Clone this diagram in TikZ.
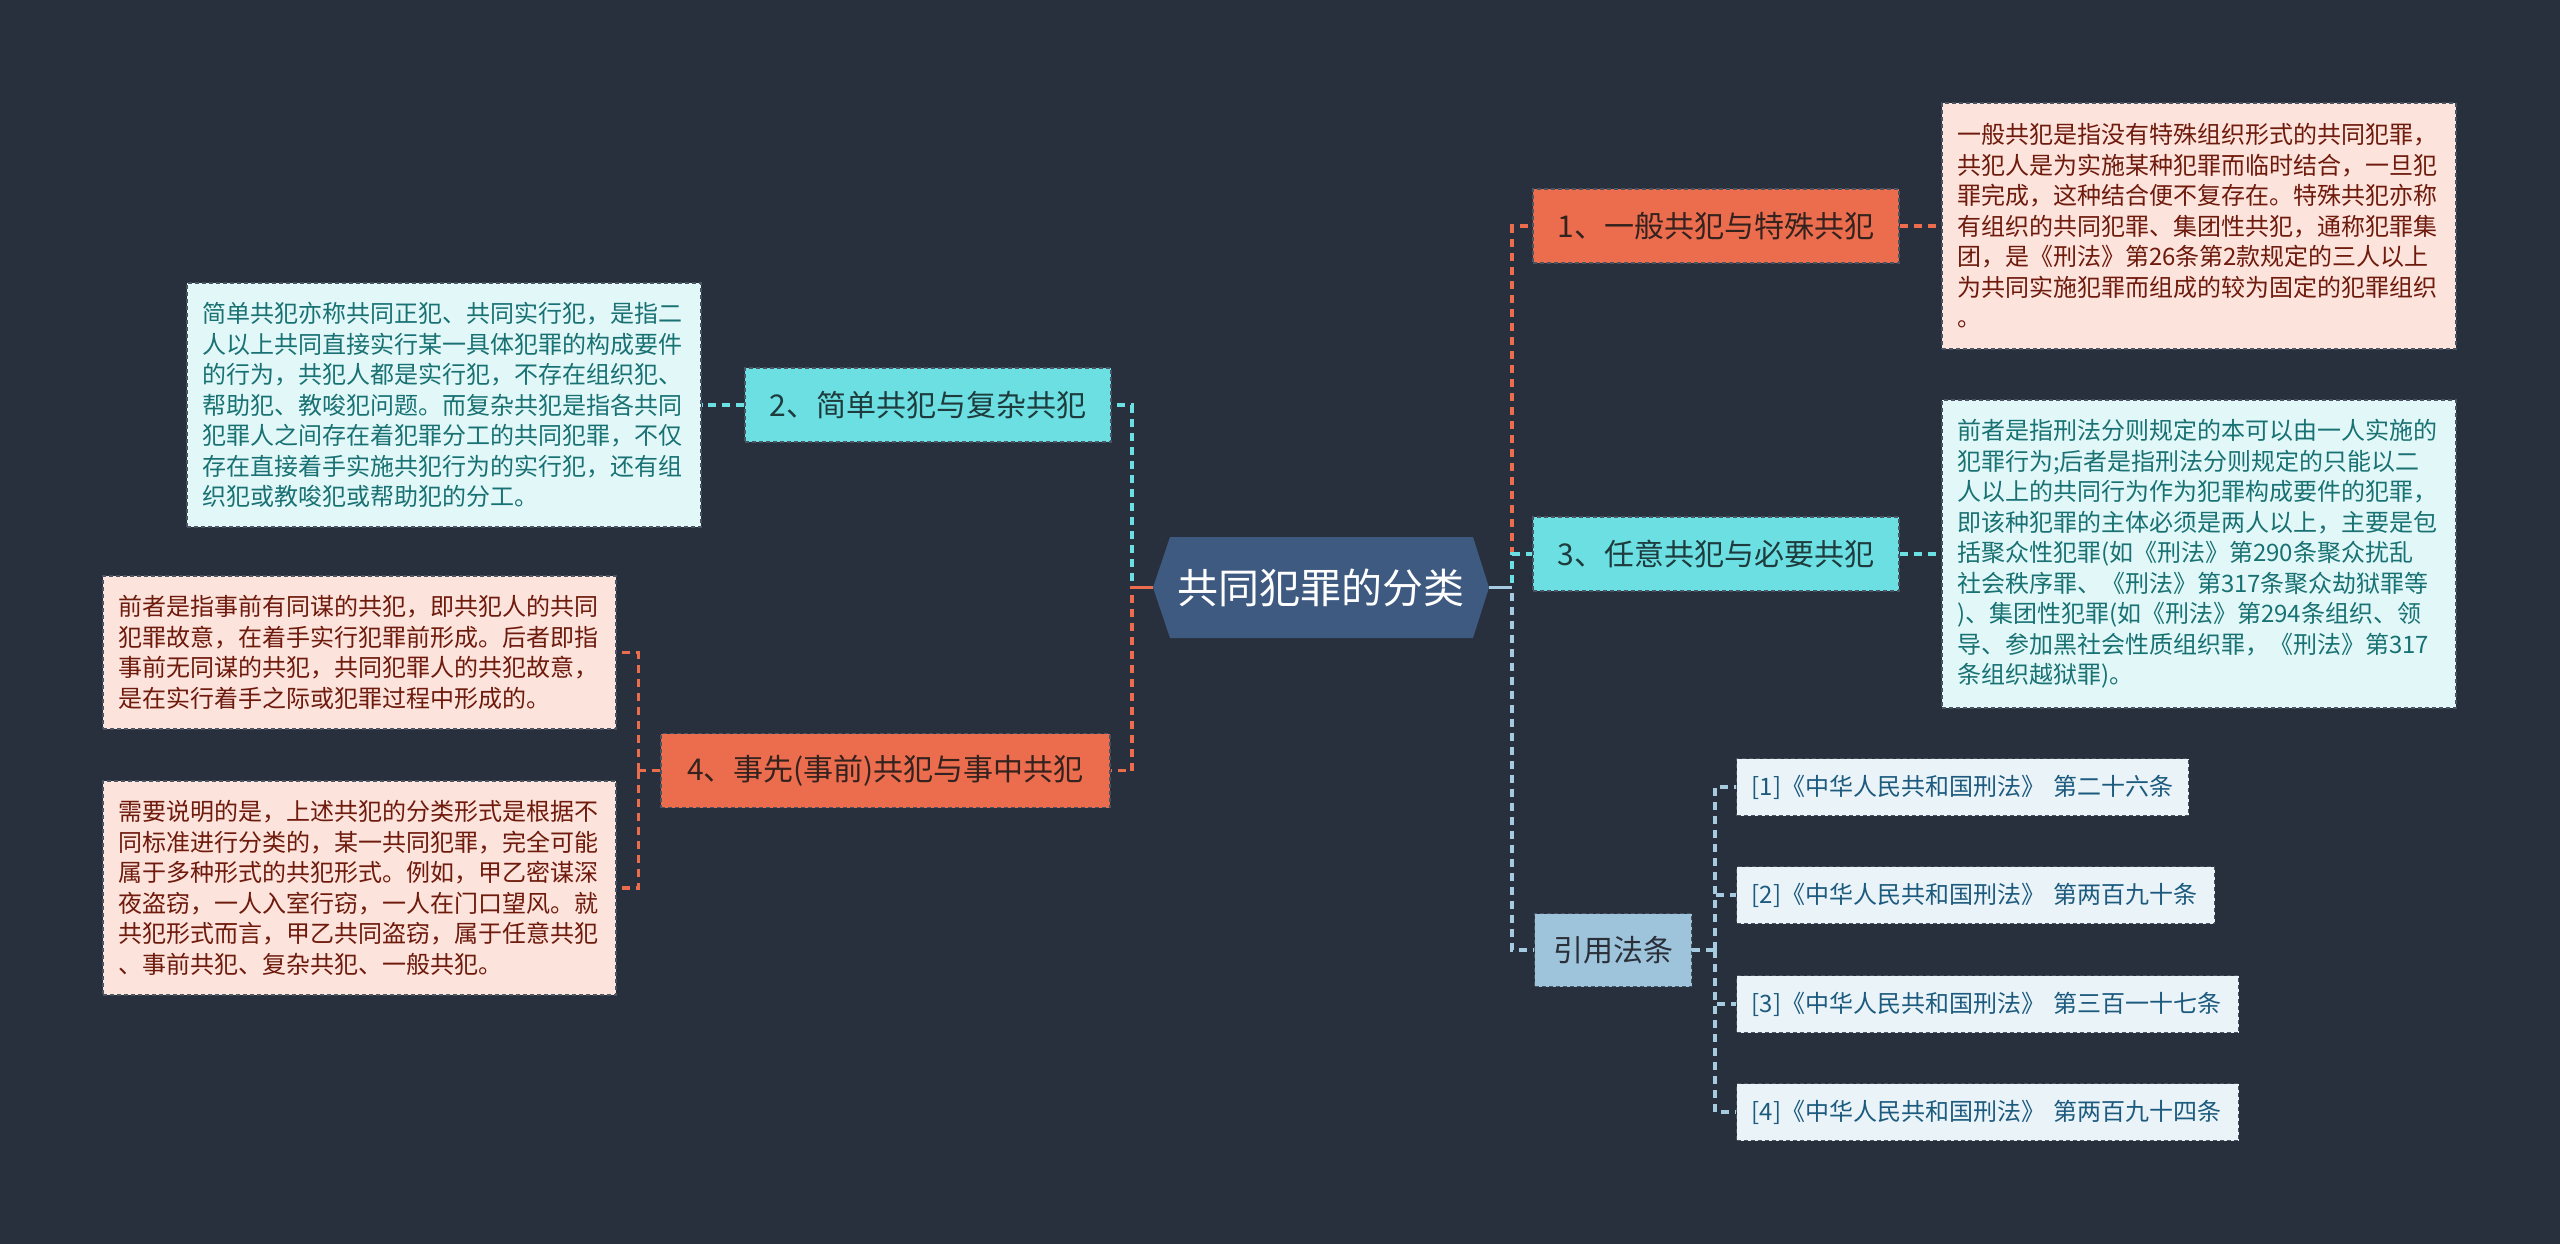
\documentclass[tikz,border=0pt]{standalone}
\usepackage{fontspec}
\setmainfont{Noto Sans CJK SC}
\usetikzlibrary{calc}
\definecolor{bgc}{HTML}{28303E}
\definecolor{hexc}{HTML}{3E5A80}
\definecolor{orgc}{HTML}{EC6C4E}
\definecolor{cyac}{HTML}{6CDFE3}
\definecolor{lawc}{HTML}{9EC4DC}
\definecolor{pinkc}{HTML}{FCE3DC}
\definecolor{icec}{HTML}{E2F8F8}
\definecolor{citec}{HTML}{EAF3F8}
\definecolor{pinkt}{HTML}{6E1A0C}
\definecolor{icet}{HTML}{197173}
\definecolor{citet}{HTML}{1C5A7E}
\definecolor{orgt}{HTML}{33221E}
\definecolor{cyat}{HTML}{1E3B3D}
\definecolor{lawt}{HTML}{2A2F38}
\definecolor{lawl}{HTML}{A6CBE0}
\definecolor{edgec}{HTML}{4A5362}
\begin{document}
\begin{tikzpicture}[x=1pt,y=-1pt,
  boxbase/.style={draw=edgec, dash pattern=on 4pt off 3pt, line width=1.3pt, inner sep=0pt},
  orangenode/.style={boxbase, fill=orgc, text=orgt, minimum width=366pt, minimum height=74pt, font=\fontsize{30}{36}\selectfont},
  cyannode/.style={boxbase, fill=cyac, text=cyat, minimum width=366pt, minimum height=74pt, font=\fontsize{30}{36}\selectfont},
  lawnode/.style={boxbase, fill=lawc, text=lawt, minimum width=157pt, minimum height=73pt, font=\fontsize{30}{36}\selectfont},
  detailbase/.style={boxbase, inner xsep=15pt, text width=484pt, align=left, font=\fontsize{24}{30.5}\selectfont},
  pinkbox/.style={detailbase, fill=pinkc, text=pinkt},
  icebox/.style={detailbase, fill=icec, text=icet},
  citebox/.style={boxbase, fill=citec, text=citet, inner xsep=15pt, minimum height=57pt, align=left, font=\fontsize{24}{30}\selectfont, anchor=west},
  lnk/.style={line width=3.5pt, dash pattern=on 8pt off 6pt},
  oline/.style={lnk, draw=orgc},
  cline/.style={lnk, draw=cyac},
  bline/.style={lnk, draw=lawl},
  stub/.style={line width=3.5pt}
]
\fill[bgc] (0,0) rectangle (2560,1244);
\useasboundingbox (0,0) rectangle (2560,1244);

% central hexagon
\fill[hexc] (1153,587.5) -- (1170,537) -- (1473,537) -- (1489,587.5) -- (1473,638) -- (1170,638) -- cycle;
\node[text=white, font=\fontsize{41}{48}\selectfont, minimum width=336pt, minimum height=101pt, inner sep=0pt] (ctr) at (1321,587.5) {共同犯罪的分类};

% main branches
\node[orangenode] (n1) at (1716,226) {1、一般共犯与特殊共犯};
\node[cyannode] (n3) at (1716,554) {3、任意共犯与必要共犯};
\node[cyannode] (n2) at (928,405) {2、简单共犯与复杂共犯};
\node[orangenode, minimum width=449pt] (n4) at (885.5,770.5) {4、事先(事前)共犯与事中共犯};
\node[lawnode] (law) at (1613,950) {引用法条};

% details
\node[pinkbox, minimum height=246pt] (d1) at (2199,226) {一般共犯是指没有特殊组织形式的共同犯罪，\\共犯人是为实施某种犯罪而临时结合，一旦犯\\罪完成，这种结合便不复存在。特殊共犯亦称\\有组织的共同犯罪、集团性共犯，通称犯罪集\\团，是《刑法》第26条第2款规定的三人以上\\为共同实施犯罪而组成的较为固定的犯罪组织\\。};
\node[icebox, minimum height=308pt] (d3) at (2199,554) {前者是指刑法分则规定的本可以由一人实施的\\犯罪行为;后者是指刑法分则规定的只能以二\\人以上的共同行为作为犯罪构成要件的犯罪，\\即该种犯罪的主体必须是两人以上，主要是包\\括聚众性犯罪(如《刑法》第290条聚众扰乱\\社会秩序罪、《刑法》第317条聚众劫狱罪等\\)、集团性犯罪(如《刑法》第294条组织、领\\导、参加黑社会性质组织罪，《刑法》第317\\条组织越狱罪)。};
\node[icebox, minimum height=244pt] (d2) at (444,405) {简单共犯亦称共同正犯、共同实行犯，是指二\\人以上共同直接实行某一具体犯罪的构成要件\\的行为，共犯人都是实行犯，不存在组织犯、\\帮助犯、教唆犯问题。而复杂共犯是指各共同\\犯罪人之间存在着犯罪分工的共同犯罪，不仅\\存在直接着手实施共犯行为的实行犯，还有组\\织犯或教唆犯或帮助犯的分工。};
\node[pinkbox, text width=483pt, minimum height=153pt] (d4a) at (359.5,652.5) {前者是指事前有同谋的共犯，即共犯人的共同\\犯罪故意，在着手实行犯罪前形成。后者即指\\事前无同谋的共犯，共同犯罪人的共犯故意，\\是在实行着手之际或犯罪过程中形成的。};
\node[pinkbox, text width=483pt, minimum height=214pt] (d4b) at (359.5,888) {需要说明的是，上述共犯的分类形式是根据不\\同标准进行分类的，某一共同犯罪，完全可能\\属于多种形式的共犯形式。例如，甲乙密谋深\\夜盗窃，一人入室行窃，一人在门口望风。就\\共犯形式而言，甲乙共同盗窃，属于任意共犯\\、事前共犯、复杂共犯、一般共犯。};

% cited laws
\node[citebox, text width=422pt] (c1) at (1736,787) {[1]《中华人民共和国刑法》 第二十六条};
\node[citebox, text width=448pt] (c2) at (1736,895) {[2]《中华人民共和国刑法》 第两百九十条};
\node[citebox, text width=472pt] (c3) at (1736,1004) {[3]《中华人民共和国刑法》 第三百一十七条};
\node[citebox, text width=472pt] (c4) at (1736,1112) {[4]《中华人民共和国刑法》 第两百九十四条};

% connectors: left side
\draw[cline] (ctr.west) -- ++(-21,0) |- (n2.east);
\draw[oline] (ctr.west) -- ++(-21,0) |- (n4.east);
\draw[stub, draw=orgc] (ctr.west) -- ++(-21,0) coordinate (lsp);
% connectors: right side
\draw[oline] (ctr.east) -- ++(23,0) |- (n1.west);
\draw[cline] (ctr.east) -- ++(23,0) |- (n3.west);
\draw[bline] (ctr.east) -- ++(23,0) |- (law.west);
\draw[stub, draw=lawl] (ctr.east) -- ++(23,0) coordinate (rsp);

% to details
\draw[oline] (n1.east) -- (d1.west);
\draw[cline] (n3.east) -- (d3.west);
\draw[cline] (n2.west) -- (d2.east);
\draw[oline] (n4.west) -- ++(-22,0) coordinate (s4);
\draw[oline] (s4) |- (d4a.east);
\draw[oline] (s4) |- (d4b.east);

% to cited laws
\draw[bline] (law.east) -- ++(23,0) coordinate (s5);
\draw[bline] (s5) |- (c1.west);
\draw[bline] (s5) |- (c2.west);
\draw[bline] (s5) |- (c3.west);
\draw[bline] (s5) |- (c4.west);
\end{tikzpicture}
\end{document}
